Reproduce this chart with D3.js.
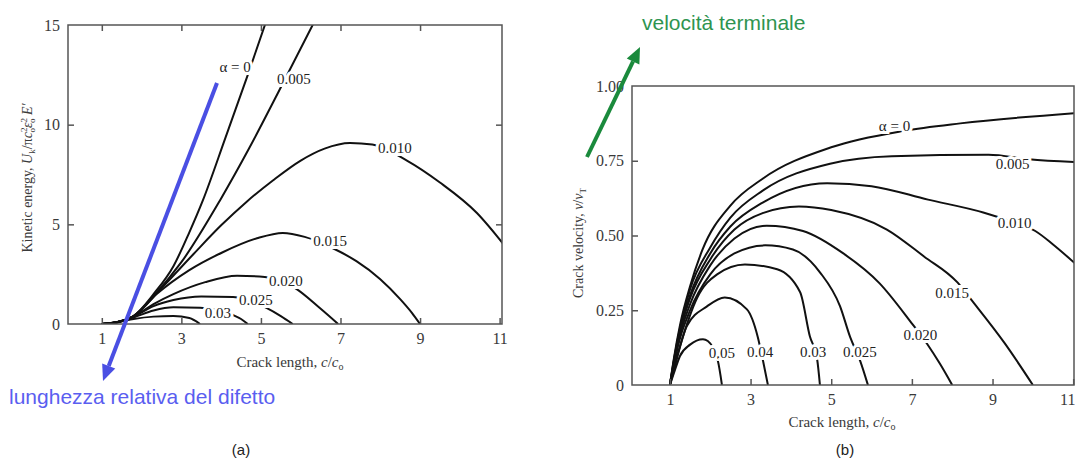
<!DOCTYPE html>
<html>
<head>
<meta charset="utf-8">
<script src="https://cdn.jsdelivr.net/npm/d3@7"></script>
<style>
  body { margin: 0; background: #fff; }
  svg { display: block; }
</style>
</head>
<body>
<div id="chart"></div>
<script>
// tick values
const xTicks = [1, 3, 5, 7, 9, 11];
const energyTicks = [0, 5, 10, 15];
const velocityTicks = [0, 0.25, 0.5, 0.75, 1.0];
const velocityTickLabels = ['0', '0.25', '0.50', '0.75', '1.00'];

// (a) kinetic energy vs crack length, one list per alpha
const energyAlpha = ['α = 0', '0.005', '0.010', '0.015', '0.020', '0.025', '0.03', ''];
const energyCurves = [
  [[1, 0], [1.4, 0.1], [1.8, 0.4], [2.3, 1.5], [2.8, 2.9], [3.2, 4.6], [3.54, 6.2], [4.1, 9.3], [4.67, 12.5], [5.1, 15.0], [5.2, 15.6]],
  [[1, 0], [1.4, 0.1], [1.8, 0.4], [2.3, 1.4], [3, 3.1], [3.97, 6.2], [4.7, 8.8], [5.43, 11.6], [6.3, 15.0], [6.45, 15.6]],
  [[1, 0], [1.4, 0.1], [1.8, 0.4], [2.5, 1.8], [3.3, 3.5], [4, 4.95], [4.65, 6.15], [5.3, 7.2], [6, 8.2], [6.6, 8.8], [7.24, 9.08], [7.8, 9.0], [8.67, 8.2], [9.5, 7.1], [10.43, 5.57], [11.1, 4.0]],
  [[1, 0], [1.4, 0.1], [1.8, 0.4], [2.38, 1.5], [3.2, 2.7], [4.04, 3.6], [4.9, 4.3], [5.55, 4.57], [6.1, 4.37], [6.81, 3.8], [7.4, 3.15], [8.0, 2.25], [8.5, 1.25], [8.8, 0.55], [9, 0]],
  [[1, 0], [1.4, 0.1], [1.8, 0.38], [2.3, 1.0], [2.8, 1.5], [3.6, 2.1], [4.4, 2.42], [5.1, 2.36], [5.86, 1.8], [6.48, 0.8], [6.94, 0]],
  [[1, 0], [1.4, 0.1], [1.8, 0.37], [2.3, 0.9], [2.8, 1.2], [3.5, 1.38], [4.3, 1.36], [5.15, 0.8], [5.5, 0.4], [5.8, 0]],
  [[1, 0], [1.4, 0.1], [1.8, 0.33], [2.3, 0.68], [2.8, 0.84], [3.47, 0.82], [4.3, 0.45], [4.5, 0.25], [4.67, 0]],
  [[1, 0], [1.4, 0.08], [1.8, 0.25], [2.3, 0.37], [2.8, 0.4], [3.2, 0.3], [3.47, 0]]
];
const energyLabelX = [4.35, 5.83, 8.37, 6.74, 5.63, 4.87, 3.92];
const energyLabelY = [12.9, 12.3, 8.83, 4.2, 2.16, 1.2, 0.55];

// (b) crack velocity vs crack length
const velocityAlpha = ['α = 0', '0.005', '0.010', '0.015', '0.020', '0.025', '0.03', '0.04', '0.05'];
const velocityCurves = [
  [[1, 0], [1.1, 0.09], [1.25, 0.2], [1.5, 0.33], [1.8, 0.45], [2.5, 0.6], [3.3, 0.69], [5, 0.795], [6.8, 0.85], [8.2, 0.875], [11.1, 0.91]],
  [[1, 0], [1.1, 0.085], [1.25, 0.19], [1.5, 0.32], [2, 0.46], [2.5, 0.56], [3.3, 0.65], [4.97, 0.74], [6.5, 0.765], [8.9, 0.77], [9.9, 0.755], [11.1, 0.745]],
  [[1, 0], [1.1, 0.08], [1.25, 0.18], [1.5, 0.3], [2, 0.44], [2.5, 0.53], [3.3, 0.61], [4.9, 0.675], [6, 0.665], [7.4, 0.62], [8.77, 0.577], [9.5, 0.545], [10.06, 0.515], [10.5, 0.47], [11.1, 0.4]],
  [[1, 0], [1.1, 0.075], [1.2, 0.15], [1.5, 0.29], [2, 0.42], [2.6, 0.52], [3.3, 0.575], [4.2, 0.597], [5, 0.585], [6.38, 0.52], [7.3, 0.43], [8.13, 0.343], [8.52, 0.277], [9.3, 0.14], [10, 0]],
  [[1, 0], [1.1, 0.07], [1.2, 0.14], [1.5, 0.27], [2, 0.4], [2.6, 0.49], [3.4, 0.533], [4.3, 0.515], [5.3, 0.44], [6.2, 0.34], [6.96, 0.213], [7.38, 0.137], [7.7, 0.07], [8, 0]],
  [[1, 0], [1.1, 0.065], [1.2, 0.13], [1.5, 0.25], [2, 0.37], [2.6, 0.44], [3.36, 0.467], [4.05, 0.453], [4.72, 0.377], [5.22, 0.263], [5.47, 0.16], [5.72, 0.08], [5.91, 0]],
  [[1, 0], [1.1, 0.06], [1.25, 0.13], [1.67, 0.29], [2.17, 0.37], [2.86, 0.403], [3.66, 0.387], [4.23, 0.31], [4.47, 0.163], [4.65, 0.087], [4.72, 0]],
  [[1, 0], [1.1, 0.05], [1.42, 0.197], [1.92, 0.263], [2.36, 0.293], [2.91, 0.253], [3.18, 0.16], [3.31, 0.08], [3.43, 0]],
  [[1, 0], [1.1, 0.04], [1.25, 0.097], [1.5, 0.135], [1.82, 0.153], [1.94, 0.147], [2.19, 0.08], [2.29, 0]]
];
const velocityLabelX = [6.57, 9.5, 9.55, 8.0, 7.21, 5.71, 4.55, 3.24, 2.29];
const velocityLabelY = [0.867, 0.74, 0.543, 0.307, 0.167, 0.11, 0.11, 0.11, 0.107];

const W = 1075, H = 465;
const serif = '"Liberation Serif", "DejaVu Serif", serif';
const sans = 'Arial, "Liberation Sans", sans-serif';
const ink = '#3a3a3a';

const svg = d3.select('#chart').append('svg')
  .attr('width', W)
  .attr('height', H);

const defs = svg.append('defs');

function panel(id, x, y, xTickVals, yTickVals, yFormat, curves, alphas, labelX, labelY, topTicks) {
  const [x0, x1] = x.range();
  const [y0, y1] = y.range();

  defs.append('clipPath').attr('id', id)
    .append('rect')
      .attr('x', x0).attr('y', y1)
      .attr('width', x1 - x0).attr('height', y0 - y1);

  const g = svg.append('g');

  const line = d3.line()
    .x(d => x(d[0]))
    .y(d => y(d[1]))
    .curve(d3.curveMonotoneX);

  g.append('g')
    .attr('clip-path', `url(#${id})`)
    .selectAll('path')
    .data(curves)
    .enter()
      .append('path')
        .attr('d', line)
        .attr('fill', 'none')
        .attr('stroke', '#111')
        .attr('stroke-width', 2);

  // curve labels with a white halo that cuts the line
  g.append('g')
    .selectAll('text')
    .data(labelX.map((lx, i) => ({ lx, ly: labelY[i], t: alphas[i] })))
    .enter()
      .append('text')
        .attr('x', d => x(d.lx))
        .attr('y', d => y(d.ly))
        .attr('dy', '0.35em')
        .attr('text-anchor', 'middle')
        .attr('font-family', serif)
        .attr('font-size', 15)
        .attr('fill', '#222')
        .attr('stroke', '#fff')
        .attr('stroke-width', 6)
        .attr('paint-order', 'stroke')
        .text(d => d.t);

  // frame
  g.append('rect')
    .attr('x', x0).attr('y', y1)
    .attr('width', x1 - x0).attr('height', y0 - y1)
    .attr('fill', 'none')
    .attr('stroke', '#555')
    .attr('stroke-width', 1.5);

  const bottom = g.append('g')
    .attr('transform', `translate(0,${y0})`)
    .call(d3.axisBottom(x).tickValues(xTickVals).tickSizeInner(-6).tickSizeOuter(0).tickPadding(9));

  const left = g.append('g')
    .attr('transform', `translate(${x0},0)`)
    .call(d3.axisLeft(y).tickValues(yTickVals).tickFormat(yFormat).tickSizeInner(-6).tickSizeOuter(0).tickPadding(8));

  [bottom, left].forEach(a => {
    a.select('.domain').remove();
    a.selectAll('line').attr('stroke', '#555').attr('stroke-width', 1.5);
    a.selectAll('text')
      .attr('font-family', serif)
      .attr('font-size', 16)
      .attr('fill', ink);
  });
  left.selectAll('.tick').filter(d => d === yTickVals[0] || d === yTickVals[yTickVals.length - 1])
    .select('line').remove();

  // keep a tick label that would fall past the page edge inside it
  bottom.selectAll('.tick').filter(d => x(d) > W - 8)
    .select('text')
      .attr('text-anchor', 'end')
      .attr('x', W - x(xTickVals[xTickVals.length - 1]));

  if (topTicks) {
    g.append('g')
      .attr('transform', `translate(0,${y1})`)
      .call(d3.axisTop(x).tickValues(topTicks).tickSizeInner(-6).tickSizeOuter(0).tickFormat(''))
      .call(a => a.select('.domain').remove())
      .selectAll('line').attr('stroke', '#555').attr('stroke-width', 1.5);
    g.append('g')
      .attr('transform', `translate(${x1},0)`)
      .call(d3.axisRight(y).tickValues(yTickVals.slice(1, -1)).tickSizeInner(-6).tickSizeOuter(0).tickFormat(''))
      .call(a => a.select('.domain').remove())
      .selectAll('line').attr('stroke', '#555').attr('stroke-width', 1.5);
  }
  return g;
}

// (a)
const xa = d3.scaleLinear().domain([0.15, 11.06]).range([68, 502]);
const ya = d3.scaleLinear().domain([0, 15]).range([324, 25]);
panel('clipA', xa, ya, xTicks, energyTicks, d => d, energyCurves, energyAlpha, energyLabelX, energyLabelY, [1, 3, 5, 7, 9]);

// (b)
const xb = d3.scaleLinear().domain([0.06, 11.02]).range([632, 1074]);
const yb = d3.scaleLinear().domain([0, 1]).range([385, 86]);
panel('clipB', xb, yb, xTicks, velocityTicks, (d, i) => velocityTickLabels[i], velocityCurves, velocityAlpha, velocityLabelX, velocityLabelY, null);

// axis titles
function xTitle(cx, cy) {
  const t = svg.append('text')
    .attr('x', cx).attr('y', cy)
    .attr('text-anchor', 'middle')
    .attr('font-family', serif)
    .attr('font-size', 15)
    .attr('fill', ink);
  t.append('tspan').text('Crack length, ');
  t.append('tspan').attr('font-style', 'italic').text('c');
  t.append('tspan').text('/');
  t.append('tspan').attr('font-style', 'italic').text('c');
  t.append('tspan').attr('font-size', 10).attr('dy', 3).text('o');
}
xTitle(290, 367);
xTitle(842, 427);

const ta = svg.append('text')
  .attr('transform', 'translate(32,178) rotate(-90)')
  .attr('text-anchor', 'middle')
  .attr('font-family', serif)
  .attr('font-size', 14)
  .attr('fill', ink);
ta.append('tspan').text('Kinetic energy, ');
ta.append('tspan').attr('font-style', 'italic').text('U');
ta.append('tspan').attr('font-size', 9).attr('dy', 3).text('k');
ta.append('tspan').attr('dy', -3).text('/π');
ta.append('tspan').attr('font-style', 'italic').text('c');
ta.append('tspan').attr('font-size', 9).attr('dy', -5).text('2');
ta.append('tspan').attr('font-size', 9).attr('dx', -5).attr('dy', 8).text('o');
ta.append('tspan').attr('font-style', 'italic').attr('dy', -3).text('ε');
ta.append('tspan').attr('font-size', 9).attr('dy', -5).text('2');
ta.append('tspan').attr('font-size', 9).attr('dx', -5).attr('dy', 8).text('o');
ta.append('tspan').attr('font-style', 'italic').attr('dy', -3).text(' E′');

const tb = svg.append('text')
  .attr('transform', 'translate(583,243) rotate(-90)')
  .attr('text-anchor', 'middle')
  .attr('font-family', serif)
  .attr('font-size', 14)
  .attr('fill', ink);
tb.append('tspan').text('Crack velocity, ');
tb.append('tspan').attr('font-style', 'italic').text('v');
tb.append('tspan').text('/');
tb.append('tspan').attr('font-style', 'italic').text('v');
tb.append('tspan').attr('font-size', 9).attr('dy', 3).text('T');

// annotation arrows
function arrow(x1, y1, x2, y2, color) {
  const ang = Math.atan2(y2 - y1, x2 - x1);
  const len = 16, half = 7;
  const bx = x2 - len * Math.cos(ang), by = y2 - len * Math.sin(ang);
  svg.append('line')
    .attr('x1', x1).attr('y1', y1).attr('x2', bx).attr('y2', by)
    .attr('stroke', color).attr('stroke-width', 4);
  const px = -Math.sin(ang) * half, py = Math.cos(ang) * half;
  svg.append('path')
    .attr('d', `M${x2},${y2}L${bx + px},${by + py}L${bx - px},${by - py}Z`)
    .attr('fill', color);
}
arrow(217, 83, 103, 381, '#4a4fe3');
arrow(587, 157, 640, 47, '#1a8a3c');

svg.append('text')
  .attr('x', 9).attr('y', 404)
  .attr('font-family', sans)
  .attr('font-size', 21)
  .attr('fill', '#5a5ef0')
  .text('lunghezza relativa del difetto');

svg.append('text')
  .attr('x', 642).attr('y', 30)
  .attr('font-family', sans)
  .attr('font-size', 21)
  .attr('fill', '#2e9450')
  .text('velocità terminale');

svg.append('text')
  .attr('x', 241).attr('y', 455)
  .attr('text-anchor', 'middle')
  .attr('font-family', sans)
  .attr('font-size', 15)
  .attr('fill', '#222')
  .text('(a)');
svg.append('text')
  .attr('x', 845).attr('y', 455)
  .attr('text-anchor', 'middle')
  .attr('font-family', sans)
  .attr('font-size', 15)
  .attr('fill', '#222')
  .text('(b)');
</script>
</body>
</html>
